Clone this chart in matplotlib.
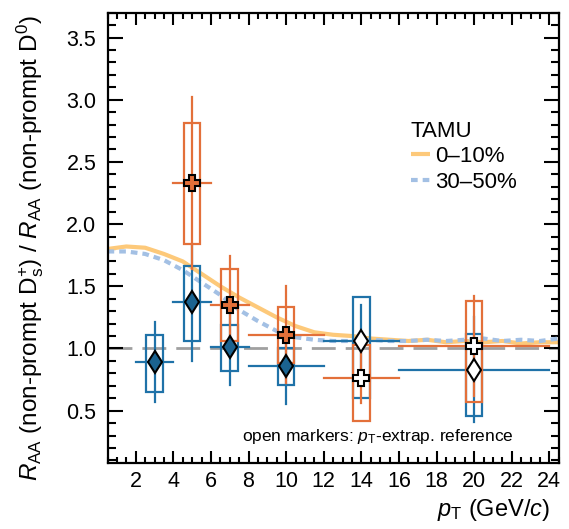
import numpy as np
import matplotlib
matplotlib.use("Agg")
import matplotlib.pyplot as plt
from matplotlib.patches import Rectangle
from matplotlib.ticker import MultipleLocator

plt.rcParams["font.family"] = ["Liberation Sans", "DejaVu Sans"]
plt.rcParams["mathtext.fontset"] = "custom"
plt.rcParams["mathtext.rm"] = "Liberation Sans"
plt.rcParams["mathtext.it"] = "Liberation Sans:italic"
plt.rcParams["mathtext.bf"] = "Liberation Sans:bold"

# ---- measured ratios -------------------------------------------------------
# 0-10% centrality
c010_x = [5, 7, 10, 14, 20]
c010_xlo = [4, 6, 8, 12, 16]
c010_xhi = [6, 8, 12, 16, 24]
c010_y = [2.33, 1.35, 1.11, 0.76, 1.02]
c010_stat = [0.69, 0.39, 0.39, 0.20, 0.40]
c010_sys_lo = [0.49, 0.29, 0.23, 0.34, 0.45]
c010_sys_hi = [0.48, 0.29, 0.22, 0.27, 0.36]
c010_open = [False, False, False, True, True]

# 30-50% centrality
c3050_x = [3, 5, 7, 10, 14, 20]
c3050_xlo = [2, 4, 6, 8, 12, 16]
c3050_xhi = [4, 6, 8, 12, 16, 24]
c3050_y = [0.89, 1.37, 1.01, 0.86, 1.06, 0.83]
c3050_stat = [0.32, 0.47, 0.30, 0.31, 0.29, 0.42]
c3050_sys_lo = [0.24, 0.31, 0.19, 0.15, 0.46, 0.37]
c3050_sys_hi = [0.22, 0.29, 0.18, 0.14, 0.35, 0.29]
c3050_open = [False, False, False, False, True, True]

# ---- TAMU model ------------------------------------------------------------
tamu_pt = [0.5, 1.5, 2.5, 3.5, 4.5, 5.5, 6.5, 7.5, 8.5, 9.5, 10.5, 11.5, 12.5,
           13.5, 14.5, 15.5, 16.5, 17.5, 18.5, 19.5, 20.5, 21.5, 22.5, 23.5, 24.5]
tamu_010 = [1.80, 1.82, 1.81, 1.76, 1.70, 1.60, 1.50, 1.41, 1.33, 1.25, 1.18,
            1.13, 1.11, 1.10, 1.08, 1.07, 1.06, 1.07, 1.05, 1.06, 1.05, 1.06,
            1.04, 1.05, 1.05]
tamu_3050 = [1.78, 1.78, 1.76, 1.71, 1.63, 1.53, 1.43, 1.31, 1.22, 1.14, 1.09,
             1.07, 1.06, 1.06, 1.07, 1.06, 1.06, 1.07, 1.06, 1.07, 1.08, 1.06,
             1.07, 1.06, 1.08]

ORANGE = "#e3703a"
BLUE = "#1f72a8"
BLUE_FILL = "#1b6390"
BOX_HW = 0.44

fig = plt.figure(figsize=(5.69, 5.29), dpi=100)
ax = fig.add_axes([0.189, 0.125, 0.793, 0.851])

ax.axhline(1.0, color="#a0a0a0", lw=2.0, dashes=(8.6, 3.6), zorder=1)
ax.plot(tamu_pt, tamu_010, color="#fdc97a", lw=3.0, zorder=2,
        solid_capstyle="butt", label="0\u201310%")
ax.plot(tamu_pt, tamu_3050, color="#a3c0e4", lw=3.0, dashes=(1.6, 1.2),
        zorder=2, label="30\u201350%")


def draw_series(x, xlo, xhi, y, stat, slo, shi, is_open, color, marker, fill, ms, z):
    for i in range(len(x)):
        ax.add_patch(Rectangle((x[i] - BOX_HW, y[i] - slo[i]), 2 * BOX_HW,
                               slo[i] + shi[i], fill=False, ec=color, lw=1.6,
                               zorder=z))
        ax.plot([xlo[i], xhi[i]], [y[i], y[i]], color=color, lw=1.6, zorder=z + 0.5)
        ax.plot([x[i], x[i]], [y[i] - stat[i], y[i] + stat[i]], color=color,
                lw=1.6, zorder=z + 0.5)
    for i in range(len(x)):
        ax.plot(x[i], y[i], marker=marker, ms=ms, mec="black", mew=1.5,
                mfc="white" if is_open[i] else fill, ls="none", zorder=10)


draw_series(c3050_x, c3050_xlo, c3050_xhi, c3050_y, c3050_stat, c3050_sys_lo,
            c3050_sys_hi, c3050_open, BLUE, "d", BLUE_FILL, 11.5, 3)
draw_series(c010_x, c010_xlo, c010_xhi, c010_y, c010_stat, c010_sys_lo,
            c010_sys_hi, c010_open, ORANGE, "P", ORANGE, 12, 5)

ax.set_xlim(0.5, 24.5)
ax.set_ylim(0.08, 3.7)
ax.xaxis.set_major_locator(MultipleLocator(2))
ax.xaxis.set_minor_locator(MultipleLocator(0.5))
ax.yaxis.set_major_locator(MultipleLocator(0.5))
ax.yaxis.set_minor_locator(MultipleLocator(0.1))
ax.tick_params(which="both", direction="in", top=True, right=True,
               labelsize=15.5, width=1.5, colors="black")
ax.tick_params(axis="y", which="major", length=11, pad=8)
ax.tick_params(axis="y", which="minor", length=5.5)
ax.tick_params(axis="x", which="major", length=8.5, pad=6)
ax.tick_params(axis="x", which="minor", length=4.5)
ax.set_yticks([0.5, 1.0, 1.5, 2.0, 2.5, 3.0, 3.5])
ax.set_yticklabels(["0.5", "1.0", "1.5", "2.0", "2.5", "3.0", "3.5"])
for s in ax.spines.values():
    s.set_linewidth(1.6)

leg = ax.legend(title="TAMU", loc="upper left", bbox_to_anchor=(0.652, 0.78),
                frameon=False, fontsize=16, title_fontsize=16,
                handlelength=0.85, handletextpad=0.25, labelspacing=0.2,
                borderaxespad=0, alignment="left")

ax.text((242 - 107.7) / 451.3, (463 - 437) / 450.3,
        r"open markers: $p_{\rm T}$-extrap. reference",
        transform=ax.transAxes, ha="left", va="center", fontsize=12.5)

fig.text(30 / 569, 1 - 15 / 529,
         r"$R_{\rm AA}$ (non-prompt D$_{\rm s}^{+}$) / $R_{\rm AA}$ (non-prompt D$^{0}$)",
         rotation=90, ha="center", va="top", fontsize=17.5)
fig.text(550 / 569, 1 - 510 / 529, r"$p_{\rm T}$ (GeV/$c$)", ha="right",
         va="center", fontsize=17)

fig.savefig("out.png", dpi=100)
